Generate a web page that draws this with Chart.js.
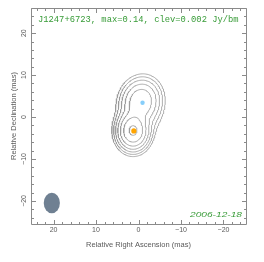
<!DOCTYPE html>
<html><head><meta charset="utf-8">
<script src="https://cdn.jsdelivr.net/npm/chart.js@4/dist/chart.umd.min.js"></script>
<style>html,body{margin:0;padding:0;background:#fff}canvas{display:block}</style>
</head><body>
<canvas id="c" width="264" height="262"></canvas>
<script>
// ---------------- data ----------------
const titleText = "J1247+6723, max=0.14, clev=0.002 Jy/bm";
const epochText = "2006-12-18";
const xAxisTitle = "Relative Right Ascension (mas)";
const yAxisTitle = "Relative Declination (mas)";
const contourLevels = [0.002, 0.004, 0.008, 0.016, 0.032, 0.064, 0.128]; // Jy/beam
// brightness model: Gaussian components
// (RA mas, Dec mas, peak Jy/bm, minor FWHM mas, major FWHM mas, position angle deg)
const compRA      = [0.7, 1.9, -0.5, -0.3];
const compDec     = [-3.3, -3.3, 3.7, -0.2];
const compPeak    = [0.0765, 0.0765, 0.06, 0.007];
const compFwhmMin = [3.7, 3.7, 5.0, 6.0];
const compFwhmMaj = [4.9, 4.9, 6.0, 8.0];
const compPA      = [0, 0, -15, -20];
// model-fit component markers
const coreMarker = [{x: 1.1, y: -3.3}];
const jetMarker  = [{x: -0.95, y: 3.4}];
// restoring beam (centre RA, Dec; FWHM RA, Dec in mas)
const beamCentre = [20.4, -20.5];
const beamSize   = [3.8, 4.9];
// axes
const xRange = [-25.3, 25.3];
const yRange = [-25.5, 26];
const majorTicks = [-20, -10, 0, 10, 20];
const majorTickLabels = ["\u221220", "\u221210", "0", "10", "20"];

// ---------------- contour tracing ----------------
function model(ra, dec) {
  let s = 0;
  for (let k = 0; k < compRA.length; k++) {
    const pa = compPA[k] * Math.PI / 180;
    const dx = ra - compRA[k], dy = dec - compDec[k];
    const m = (dx * Math.sin(pa) + dy * Math.cos(pa)) / compFwhmMaj[k];
    const n = (dx * Math.cos(pa) - dy * Math.sin(pa)) / compFwhmMin[k];
    s += compPeak[k] * Math.exp(-4 * Math.LN2 * (m * m + n * n));
  }
  return s;
}
const G = {x0: -15, y0: -17, step: 0.2, nx: 151, ny: 171};
const grid = [];
for (let j = 0; j < G.ny; j++) {
  const row = [];
  for (let i = 0; i < G.nx; i++) row.push(model(G.x0 + i * G.step, G.y0 + j * G.step));
  grid.push(row);
}
const CASES = {1:[[3,0]],2:[[0,1]],3:[[3,1]],4:[[1,2]],5:[[3,0],[1,2]],6:[[0,2]],7:[[3,2]],
  8:[[2,3]],9:[[0,2]],10:[[0,1],[2,3]],11:[[1,2]],12:[[1,3]],13:[[0,1]],14:[[0,3]]};
function traceLevel(L) {
  const pts = {}, adj = {};
  const edgeKey = (e, i, j) => {
    let key;
    if (e === 0 || e === 2) {
      const jj = e === 0 ? j : j + 1;
      key = 'h' + i + ',' + jj;
      if (!pts[key]) {
        const a = grid[jj][i], b = grid[jj][i + 1];
        const t = (L - a) / (b - a);
        pts[key] = {x: G.x0 + (i + t) * G.step, y: G.y0 + jj * G.step};
      }
    } else {
      const ii = e === 1 ? i + 1 : i;
      key = 'v' + ii + ',' + j;
      if (!pts[key]) {
        const a = grid[j][ii], b = grid[j + 1][ii];
        const t = (L - a) / (b - a);
        pts[key] = {x: G.x0 + ii * G.step, y: G.y0 + (j + t) * G.step};
      }
    }
    return key;
  };
  for (let j = 0; j < G.ny - 1; j++) {
    for (let i = 0; i < G.nx - 1; i++) {
      const c = (grid[j][i] >= L ? 1 : 0) | (grid[j][i + 1] >= L ? 2 : 0) |
                (grid[j + 1][i + 1] >= L ? 4 : 0) | (grid[j + 1][i] >= L ? 8 : 0);
      const segs = CASES[c];
      if (!segs) continue;
      segs.forEach(([e1, e2]) => {
        const k1 = edgeKey(e1, i, j), k2 = edgeKey(e2, i, j);
        (adj[k1] = adj[k1] || []).push(k2);
        (adj[k2] = adj[k2] || []).push(k1);
      });
    }
  }
  const visited = new Set(), lines = [];
  const walk = (start) => {
    const chain = [start]; visited.add(start);
    let cur = start;
    for (;;) {
      const nxt = adj[cur].find(k => !visited.has(k));
      if (!nxt) break;
      visited.add(nxt); chain.push(nxt); cur = nxt;
    }
    if (chain.length > 2 && adj[cur].includes(start)) chain.push(start);
    return chain.map(k => pts[k]);
  };
  const keys = Object.keys(adj);
  keys.filter(k => adj[k].length === 1).forEach(k => { if (!visited.has(k)) lines.push(walk(k)); });
  keys.forEach(k => { if (!visited.has(k)) lines.push(walk(k)); });
  return lines;
}

const datasets = [
  {data: coreMarker, backgroundColor: '#ffa500', borderWidth: 0, pointRadius: 2.6, order: 0},
  {data: jetMarker, backgroundColor: '#87cefa', borderWidth: 0, pointRadius: 2.2, order: 0}
];
contourLevels.forEach(L => {
  traceLevel(L).forEach(line => {
    datasets.push({data: line, showLine: true, borderColor: '#999999', borderWidth: 0.8,
      pointRadius: 0, fill: false, tension: 0, order: 1});
  });
});

// ---------------- fonts ----------------
const mctx = document.createElement('canvas').getContext('2d');
function fitSize(text, font, width) {
  mctx.font = '10px ' + font;
  return 10 * width / mctx.measureText(text).width;
}
const SANS = '"Liberation Sans", Arial, sans-serif';
const MONO = '"Liberation Mono", "Courier New", monospace';
const titleSize = fitSize(titleText, MONO, 201);
const xTitleSize = fitSize(xAxisTitle, SANS, 105);
const yTitleSize = fitSize(yAxisTitle, SANS, 88);
const GREEN = '#379b37';
const GREY_TXT = '#5a5a5a';
const GREY_LINE = '#8a8a8a';

// ---------------- plugins ----------------
const isMajor = v => majorTicks.some(m => Math.abs(m - v) < 1e-6);
const framePlugin = {
  id: 'frame',
  afterDraw(chart) {
    const {ctx, chartArea: a} = chart;
    const xs = chart.scales.x, ys = chart.scales.y;
    const L = Math.round(a.left) + 0.5, R = Math.round(a.right) + 0.5;
    const T = Math.round(a.top) + 0.5, B = Math.round(a.bottom) + 0.5;
    ctx.save();
    ctx.strokeStyle = GREY_LINE; ctx.lineWidth = 1;
    ctx.beginPath();
    ctx.rect(L, T, R - L, B - T);
    xs.ticks.forEach(t => {
      const p = Math.round(xs.getPixelForValue(t.value)) + 0.5;
      const len = isMajor(t.value) ? 4.5 : 2.5;
      ctx.moveTo(p, B); ctx.lineTo(p, B - len);
      ctx.moveTo(p, T); ctx.lineTo(p, T + len);
    });
    ys.ticks.forEach(t => {
      const p = Math.round(ys.getPixelForValue(t.value)) + 0.5;
      const len = isMajor(t.value) ? 4.5 : 2.5;
      ctx.moveTo(L, p); ctx.lineTo(L + len, p);
      ctx.moveTo(R, p); ctx.lineTo(R - len, p);
    });
    ctx.stroke();
    ctx.restore();
  }
};
const beamPlugin = {
  id: 'beam',
  beforeDatasetsDraw(chart) {
    const {ctx} = chart;
    const xs = chart.scales.x, ys = chart.scales.y;
    const cx = xs.getPixelForValue(beamCentre[0]);
    const cy = ys.getPixelForValue(beamCentre[1]);
    const rx = Math.abs(xs.getPixelForValue(beamCentre[0] + beamSize[0] / 2) - cx);
    const ry = Math.abs(ys.getPixelForValue(beamCentre[1] + beamSize[1] / 2) - cy);
    ctx.save();
    ctx.fillStyle = '#6f8092';
    ctx.beginPath();
    ctx.ellipse(cx, cy, rx, ry, 0, 0, Math.PI * 2);
    ctx.fill();
    ctx.restore();
  }
};
const textPlugin = {
  id: 'labels',
  afterDraw(chart) {
    const {ctx, chartArea: a} = chart;
    ctx.save();
    ctx.fillStyle = GREEN;
    ctx.font = titleSize.toFixed(2) + 'px ' + MONO;
    ctx.textBaseline = 'middle';
    ctx.textAlign = 'left';
    ctx.fillText(titleText, a.left + 7, a.top + 12);
    ctx.font = 'italic 8px ' + SANS;
    const w = ctx.measureText(epochText).width;
    ctx.translate(a.right - 4, a.bottom - 9);
    ctx.scale(52 / w, 1);
    ctx.textAlign = 'right';
    ctx.fillText(epochText, 0, 0);
    ctx.restore();
  }
};

// ---------------- chart ----------------
const tickCallback = v => {
  const idx = majorTicks.findIndex(m => Math.abs(m - v) < 1e-6);
  return idx >= 0 ? majorTickLabels[idx] : '';
};
new Chart(document.getElementById('c'), {
  type: 'scatter',
  data: {datasets},
  options: {
    responsive: false,
    animation: false,
    devicePixelRatio: 1,
    layout: {padding: {left: 0, right: 18, top: 8, bottom: 0}},
    plugins: {legend: {display: false}, tooltip: {enabled: false}},
    scales: {
      x: {
        type: 'linear', reverse: true, min: xRange[0], max: xRange[1], position: 'bottom',
        grid: {display: false, drawTicks: false},
        border: {display: false},
        ticks: {stepSize: 2, includeBounds: false, autoSkip: false, maxRotation: 0, minRotation: 0,
          padding: 2, color: GREY_TXT, font: {family: SANS, size: 7}, callback: tickCallback},
        title: {display: true, text: xAxisTitle, color: GREY_TXT,
          font: {family: SANS, size: xTitleSize}, padding: {top: 0, bottom: 12.6}},
        afterFit: s => { s.height = 38; s.paddingLeft = 0; s.paddingRight = 0; }
      },
      y: {
        type: 'linear', min: yRange[0], max: yRange[1], position: 'left',
        grid: {display: false, drawTicks: false},
        border: {display: false},
        ticks: {stepSize: 2, includeBounds: false, autoSkip: false, minRotation: 90, maxRotation: 90,
          crossAlign: 'center', padding: 1.5, color: GREY_TXT, font: {family: SANS, size: 7},
          callback: tickCallback},
        title: {display: true, text: yAxisTitle, color: GREY_TXT,
          font: {family: SANS, size: yTitleSize}, padding: {top: 9.6, bottom: 0}},
        afterFit: s => { s.width = 31; s.paddingTop = 0; s.paddingBottom = 0; }
      }
    }
  },
  plugins: [beamPlugin, framePlugin, textPlugin]
});
</script>
</body></html>
